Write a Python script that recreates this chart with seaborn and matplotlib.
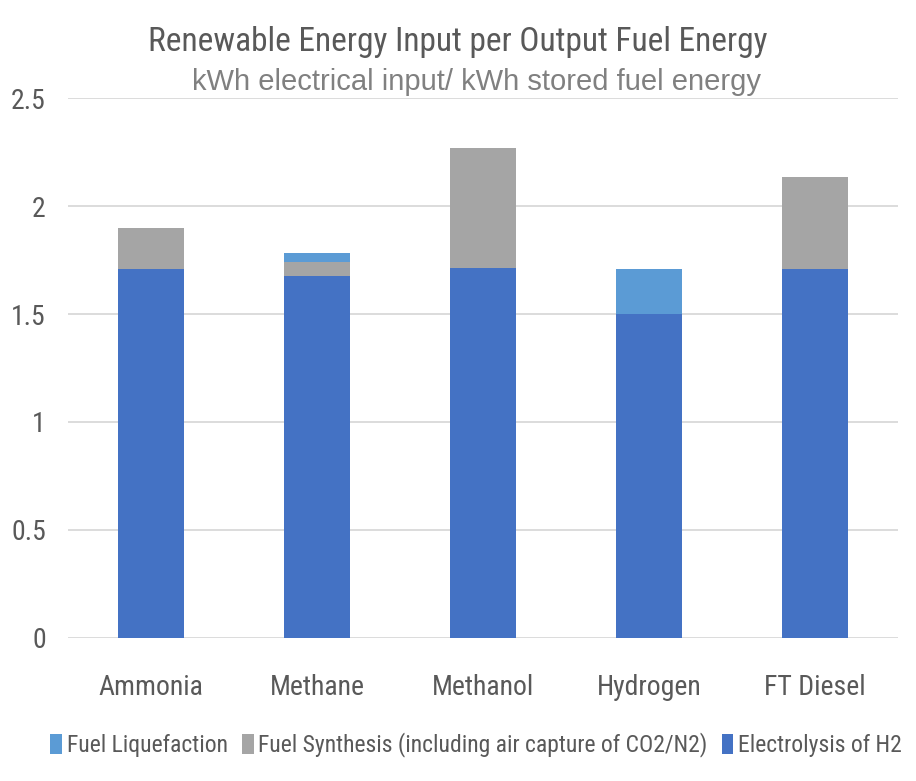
import matplotlib
matplotlib.use("Agg")
import matplotlib.pyplot as plt
import seaborn as sns
import pandas as pd
from matplotlib.patches import Patch

# Fuels and the energy contributions (kWh electrical per kWh stored fuel energy)
fuels = ["Ammonia", "Methane", "Methanol", "Hydrogen", "FT Diesel"]
electrolysis = [1.707, 1.678, 1.713, 1.500, 1.707]
synthesis = [0.190, 0.065, 0.554, 0.000, 0.428]
liquefaction = [0.000, 0.041, 0.000, 0.207, 0.000]

series_names = ["Fuel Liquefaction",
                "Fuel Synthesis (including air capture of CO2/N2)",
                "Electrolysis of H2"]
colors = {"Electrolysis of H2": "#4472C4",
          "Fuel Synthesis (including air capture of CO2/N2)": "#A5A5A5",
          "Fuel Liquefaction": "#5B9BD5"}

sns.set_theme(style="white")
plt.rcParams["font.family"] = ["Roboto Condensed", "DejaVu Sans"]
text_color = "#595959"

# Cumulative tops for stacking: draw tallest layer first, lower layers on top
df = pd.DataFrame({
    "fuel": fuels,
    "Electrolysis of H2": electrolysis,
    "synth_top": [e + s for e, s in zip(electrolysis, synthesis)],
    "liq_top": [e + s + l for e, s, l in zip(electrolysis, synthesis, liquefaction)],
})

fig = plt.figure(figsize=(9.16, 7.81), dpi=100)
ax = fig.add_axes([68 / 916, 1 - 637.7 / 781, (898 - 68) / 916, (637.7 - 98.2) / 781])

for col, name in [("liq_top", "Fuel Liquefaction"),
                  ("synth_top", "Fuel Synthesis (including air capture of CO2/N2)"),
                  ("Electrolysis of H2", "Electrolysis of H2")]:
    sns.barplot(data=df, x="fuel", y=col, color=colors[name], width=0.40,
                saturation=1, ax=ax, order=fuels, zorder=3, linewidth=0)

ax.set_xlim(-0.5, len(fuels) - 0.5)
ax.set_ylim(0, 2.5)
ax.set_yticks([0, 0.5, 1, 1.5, 2, 2.5])
ax.set_yticklabels(["0", "0.5", "1", "1.5", "2", "2.5"])
ax.yaxis.grid(True, color="#D9D9D9", linewidth=1.3, zorder=0)
ax.set_axisbelow(True)
ax.set_xlabel("")
ax.set_ylabel("")
for s in ax.spines.values():
    s.set_visible(False)
ax.tick_params(axis="y", length=0, pad=16, labelsize=20, labelcolor=text_color)
ax.tick_params(axis="x", length=0, pad=26, labelsize=20, labelcolor=text_color)

fig.text(458 / 916, 1 - 42 / 781, "Renewable Energy Input per Output Fuel Energy",
         ha="center", va="center", fontsize=24, color=text_color)
fig.text(477 / 916, 1 - 82 / 781, "kWh electrical input/ kWh stored fuel energy",
         ha="center", va="center", fontsize=21, color="#808080",
         family=["Liberation Sans", "DejaVu Sans"])

handles = [Patch(facecolor=colors[n], edgecolor="none") for n in series_names]
fig.legend(handles, series_names, loc="center", bbox_to_anchor=(476 / 916, 1 - 745 / 781),
           ncol=3, frameon=False, fontsize=17, labelcolor=text_color,
           handlelength=0.5, handleheight=0.9, handletextpad=0.2, columnspacing=0.6,
           borderpad=0, borderaxespad=0)

fig.savefig("out.png", dpi=100, facecolor="white")
